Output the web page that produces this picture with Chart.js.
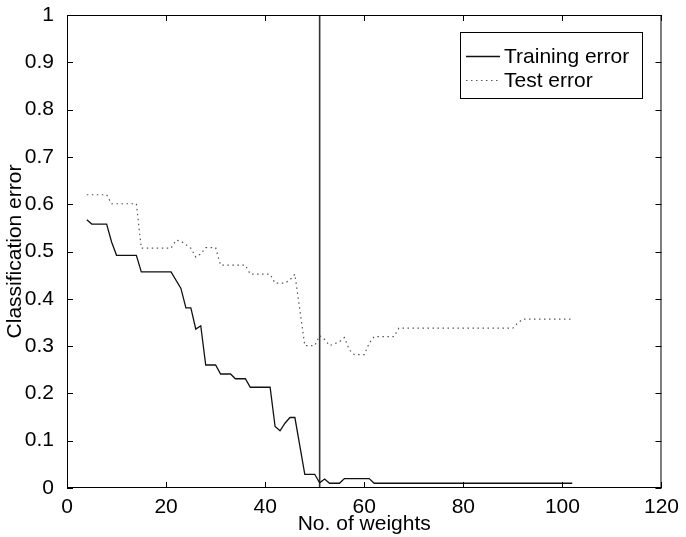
<!DOCTYPE html>
<html>
<head>
<meta charset="utf-8">
<script src="https://cdn.jsdelivr.net/npm/chart.js@4"></script>
<style>
  html, body { margin: 0; padding: 0; background: #fff; }
  #wrap { width: 686px; height: 537px; }
</style>
</head>
<body>
<div id="wrap"><canvas id="errChart"></canvas></div>
<script>
// training error
var trainX = [4, 5, 8, 9, 10, 14, 15, 21, 23, 24, 25, 26, 27, 28, 30, 31, 33, 34, 36, 37, 41, 42, 43, 44, 45, 46, 48, 50, 51, 52, 53, 55, 56, 61, 62, 102];
var trainY = [0.567, 0.558, 0.558, 0.52, 0.492, 0.492, 0.457, 0.457, 0.422, 0.381, 0.381, 0.336, 0.343, 0.26, 0.26, 0.241, 0.241, 0.231, 0.231, 0.213, 0.213, 0.13, 0.121, 0.137, 0.149, 0.149, 0.029, 0.029, 0.011, 0.019, 0.01, 0.01, 0.02, 0.02, 0.01, 0.01];

// test error
var testX = [4, 8, 9, 14, 15, 21, 22, 23, 25, 26, 27, 28, 30, 31, 36, 37, 41, 42, 44, 45, 46, 48, 50, 51, 52, 53, 55, 56, 57, 58, 60, 61, 62, 66, 67, 90, 91, 92, 102];
var testY = [0.62, 0.62, 0.601, 0.601, 0.507, 0.507, 0.524, 0.522, 0.507, 0.488, 0.495, 0.508, 0.508, 0.471, 0.471, 0.452, 0.452, 0.433, 0.433, 0.44, 0.452, 0.301, 0.301, 0.322, 0.314, 0.301, 0.309, 0.318, 0.292, 0.282, 0.282, 0.306, 0.32, 0.32, 0.338, 0.338, 0.349, 0.357, 0.357];

// vertical marker at the chosen number of weights
var markX = [51, 51];
var markY = [0, 1];

var xTicks = [0, 20, 40, 60, 80, 100, 120];
var yTicks = [0, 0.1, 0.2, 0.3, 0.4, 0.5, 0.6, 0.7, 0.8, 0.9, 1];

var legendNames = ["Training error", "Test error"];

function pts(xs, ys) {
    return xs.map(function (x, i) { return { x: x, y: ys[i] }; });
}

var FONT = "Liberation Sans, Arial, Helvetica, sans-serif";

// box round the plot, inward ticks on all four sides, and the legend box
var frame = {
    id: "frame",
    afterDatasetsDraw: function (chart) {
        var ctx = chart.ctx, a = chart.chartArea;
        var xs = chart.scales.x, ys = chart.scales.y;
        var L = 6;
        ctx.save();
        ctx.strokeStyle = "#000";
        ctx.lineWidth = 1;
        ctx.strokeRect(a.left + 0.5, a.top + 0.5, a.right - a.left - 1, a.bottom - a.top - 1);
        ctx.beginPath();
        xTicks.forEach(function (v) {
            var px = Math.round(xs.getPixelForValue(v)) + 0.5;
            ctx.moveTo(px, a.bottom); ctx.lineTo(px, a.bottom - L);
            ctx.moveTo(px, a.top); ctx.lineTo(px, a.top + L);
        });
        yTicks.forEach(function (v) {
            var py = Math.round(ys.getPixelForValue(v)) + 0.5;
            ctx.moveTo(a.left, py); ctx.lineTo(a.left + L, py);
            ctx.moveTo(a.right, py); ctx.lineTo(a.right - L, py);
        });
        ctx.stroke();

        // legend
        var bx = 460.5, by = 32.5, bw = 182, bh = 66;
        ctx.fillStyle = "#fff";
        ctx.fillRect(bx, by, bw, bh);
        ctx.strokeRect(bx, by, bw, bh);
        ctx.font = "21px " + FONT;
        ctx.fillStyle = "#000";
        ctx.textBaseline = "middle";
        ctx.textAlign = "left";
        var rows = [56, 80];
        chart.data.datasets.slice(0, 2).forEach(function (ds, i) {
            ctx.beginPath();
            ctx.strokeStyle = ds.borderColor;
            ctx.lineWidth = ds.borderWidth;
            ctx.setLineDash(ds.borderDash || []);
            ctx.moveTo(466, rows[i] + 0.5);
            ctx.lineTo(500, rows[i] + 0.5);
            ctx.stroke();
            ctx.setLineDash([]);
            ctx.fillText(legendNames[i], 504, rows[i] + 1);
        });
        ctx.restore();
    }
};

var cfg = {
    type: "line",
    data: {
        datasets: [{
            label: legendNames[0],
            data: pts(trainX, trainY),
            borderColor: "#111",
            borderWidth: 1.3,
            pointRadius: 0,
            tension: 0
        }, {
            label: legendNames[1],
            data: pts(testX, testY),
            borderColor: "#555",
            borderWidth: 1.2,
            borderDash: [1.5, 3.5],
            pointRadius: 0,
            tension: 0
        }, {
            label: "marker",
            data: pts(markX, markY),
            borderColor: "#333",
            borderWidth: 1.6,
            pointRadius: 0
        }]
    },
    options: {
        responsive: true,
        maintainAspectRatio: false,
        animation: false,
        layout: { padding: { top: 15, right: 19, left: 0, bottom: 0 } },
        plugins: { legend: { display: false }, tooltip: { enabled: false } },
        scales: {
            x: {
                type: "linear",
                min: 0, max: 120,
                afterBuildTicks: function (s) { s.ticks = xTicks.map(function (v) { return { value: v }; }); },
                afterFit: function (s) { s.height = 49; },
                grid: { display: false, drawTicks: false },
                border: { display: false },
                ticks: { color: "#000", padding: 7, maxRotation: 0, font: { family: FONT, size: 21 } },
                title: { display: true, text: "No. of weights", color: "#000", padding: { top: 0, bottom: 0 }, font: { family: FONT, size: 21 } }
            },
            y: {
                min: 0, max: 1,
                afterBuildTicks: function (s) { s.ticks = yTicks.map(function (v) { return { value: v }; }); },
                afterFit: function (s) { s.width = 67; s.paddingTop = 0; s.paddingBottom = 0; },
                grid: { display: false, drawTicks: false },
                border: { display: false },
                ticks: {
                    color: "#000", padding: 13, font: { family: FONT, size: 21 },
                    callback: function (v) { return String(v); }
                },
                title: { display: true, text: "Classification error", color: "#000", padding: { top: 3, bottom: 0 }, font: { family: FONT, size: 21 } }
            }
        }
    },
    plugins: [frame]
};

new Chart(document.getElementById("errChart"), cfg);
</script>
</body>
</html>
